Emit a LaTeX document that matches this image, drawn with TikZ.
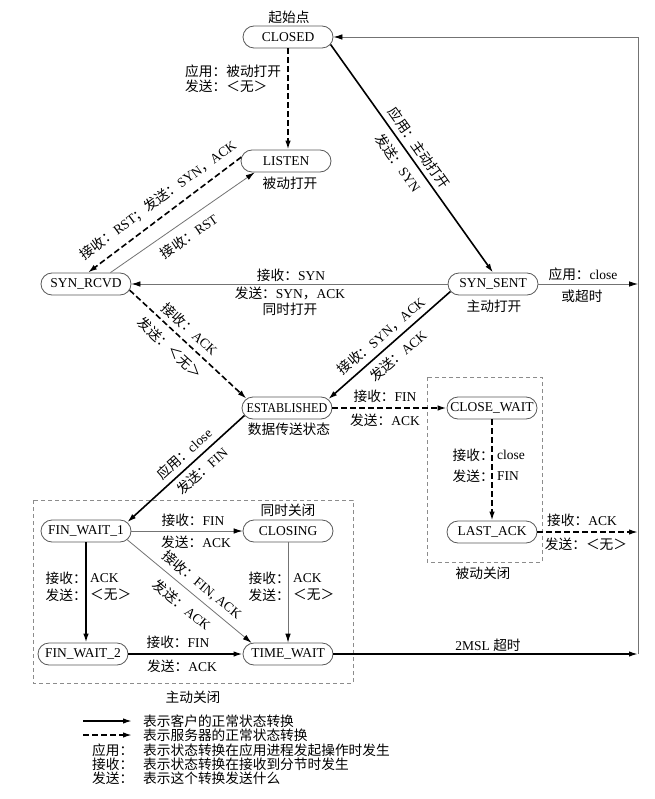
\documentclass[tikz,border=0pt]{standalone}
\usepackage{fontspec}
\setmainfont{Liberation Serif}
\newfontfamily\cjk{Noto Sans CJK SC}
\usetikzlibrary{arrows.meta,shapes.misc,calc}
\newcommand\zht[1]{{\cjk\fontsize{13.7}{15}\selectfont #1}}
\begin{document}
\begin{tikzpicture}[x=1pt,y=-1pt,
  st/.style={rounded rectangle, draw=black!65, line width=0.8pt, minimum width=90pt, minimum height=22pt, inner sep=0pt, font=\fontsize{13.5}{15}\selectfont},
  lb/.style={inner sep=0pt, font=\fontsize{13.5}{15}\selectfont},
  tip/.style={-{Latex[length=9pt,width=5.5pt,color=black]}},
  cli/.style={tip, line width=1.6pt, black},
  srv/.style={tip, line width=1.6pt, black, dash pattern=on 6pt off 3pt},
  oth/.style={tip, line width=0.8pt, black!55},
  box/.style={draw=black!45, line width=0.8pt, dash pattern=on 4pt off 3pt},
]
\fill[white] (0,0) rectangle (654,799);
\useasboundingbox (0,0) rectangle (654,799);

% dashed boxes
\draw[box] (427,377) rectangle (542,562);
\draw[box] (33,500) rectangle (353,683);

% states
\node[st] (closed) at (288,37) {CLOSED};
\node[st] (listen) at (286,161) {LISTEN};
\node[st] (synrcvd) at (86,284) {SYN\_RCVD};
\node[st] (synsent) at (493,284) {SYN\_SENT};
\node[st] (estab) at (287,408) {\scalebox{0.9}[1]{ESTABLISHED}};
\node[st] (closewait) at (492,408) {CLOSE\_WAIT};
\node[st] (lastack) at (492,532) {LAST\_ACK};
\node[st] (closing) at (288,531) {CLOSING};
\node[st] (fw1) at (86,531) {FIN\_WAIT\_1};
\node[st] (fw2) at (83,654) {FIN\_WAIT\_2};
\node[st] (tw) at (288,654) {TIME\_WAIT};

\coordinate (r1) at (638,284);
\coordinate (r2) at (638,532);
\coordinate (r3) at (638,654);
\coordinate (rt) at (638,37);

% connectors
\draw[srv] (closed.south) -- (closed.south |- listen.north);
\draw[cli] (closed.-10) -- (synsent.north);
\draw[srv] (listen.175) -- (synrcvd.80);
\draw[oth] (synrcvd.25) -- (listen.200);
\draw[oth] (synsent.west) -- (synrcvd.east);
\draw[oth] (synsent.east) -- (r1);
\draw[srv] (synrcvd.-8) -- (estab.167);
\draw[cli] (synsent.190) -- (estab.12);
\draw[srv] (estab.east) -- (closewait.west);
\draw[srv] (closewait.south) -- (lastack.north);
\draw[srv] (lastack.east) -- (r2);
\draw[cli] (estab.190) -- (fw1.12);
\draw[oth] (fw1.east) -- (closing.west);
\draw[cli] (fw1.south) -- (fw1.south |- fw2.north);
\draw[oth] (fw1.-12) -- (tw.163);
\draw[oth] (closing.south) -- (tw.north);
\draw[cli] (fw2.east) -- (tw.west);
\draw[cli] (tw.east) -- (r3);
\draw[oth] (r3) -- (rt) -- (closed.east);

% state captions
\node[lb] (c1) at (289,17) {\zht{起始点}};
\node[lb] (c2) at (290,183) {\zht{被动打开}};
\node[lb] (c3) at (494,306) {\zht{主动打开}};
\node[lb] (c4) at (289,429) {\zht{数据传送状态}};
\node[lb] (c5) at (288,510) {\zht{同时关闭}};
\node[lb] (c6) at (483,573) {\zht{被动关闭}};
\node[lb] (c7) at (193,697) {\zht{主动关闭}};

% transition labels
\node[lb, anchor=west] (a46) at (185,71) {\zht{应用：被动打开}};
\node[lb, anchor=west] (a47) at (185,86) {\zht{发送：＜无＞}};
\node[lb, rotate=-54.8] (a1) at (419,148) {\zht{应用：主动打开}};
\node[lb, rotate=-54.8] (a2) at (398,163) {\zht{发送：}SYN};
\node[lb, rotate=36.5] (a3) at (158,200) {\zht{接收：}RST\zht{；发送：}SYN\zht{，}ACK};
\node[lb, rotate=34.7] (a4) at (189,236) {\zht{接收：}RST};
\node[lb] (a5) at (291,275) {\zht{接收：}SYN};
\node[lb] (a6) at (290,293) {\zht{发送：}SYN\zht{，}ACK};
\node[lb] (a7) at (290,309) {\zht{同时打开}};
\node[lb] (a8) at (583,274) {\zht{应用：}close};
\node[lb] (a9) at (582,296) {\zht{或超时}};
\node[lb, rotate=-42.7] (a10) at (190,329) {\zht{接收：}ACK};
\node[lb, rotate=-42.7] (a11) at (170,348) {\zht{发送：＜无＞}};
\node[lb, rotate=41] (a12) at (381,336) {\zht{接收：}SYN\zht{，}ACK};
\node[lb, rotate=41] (a13) at (398,356) {\zht{发送：}ACK};
\node[lb] (a14) at (385,396) {\zht{接收：}FIN};
\node[lb] (a15) at (385,420) {\zht{发送：}ACK};
\node[lb, anchor=east] (a16) at (494,455) {\zht{接收：}};
\node[lb, anchor=west] (a17) at (497,455) {close};
\node[lb, anchor=east] (a18) at (494,476) {\zht{发送：}};
\node[lb, anchor=west] (a19) at (497,476) {FIN};
\node[lb] (a20) at (582,520) {\zht{接收：}ACK};
\node[lb] (a21) at (586,544) {\zht{发送：＜无＞}};
\node[lb, rotate=42.2] (a22) at (184,454) {\zht{应用：}close};
\node[lb, rotate=42.2] (a23) at (202,471) {\zht{发送：}FIN};
\node[lb] (a24) at (193,520) {\zht{接收：}FIN};
\node[lb] (a25) at (196,542) {\zht{发送：}ACK};
\node[lb, anchor=east] (a26) at (87,578) {\zht{接收：}};
\node[lb, anchor=west] (a27) at (90,578) {ACK};
\node[lb, anchor=east] (a28) at (87,595) {\zht{发送：}};
\node[lb, anchor=west] (a29) at (90,595) {\zht{＜无＞}};
\node[lb, anchor=east] (a30) at (290,578) {\zht{接收：}};
\node[lb, anchor=west] (a31) at (293,578) {ACK};
\node[lb, anchor=east] (a32) at (290,595) {\zht{发送：}};
\node[lb, anchor=west] (a33) at (293,595) {\zht{＜无＞}};
\node[lb, rotate=-39.5] (a34) at (202,585) {\zht{接收：}FIN, ACK};
\node[lb, rotate=-39.5] (a35) at (182,605) {\zht{发送：}ACK};
\node[lb] (a36) at (178,642) {\zht{接收：}FIN};
\node[lb] (a37) at (182,666) {\zht{发送：}ACK};
\node[lb] (a38) at (488,645) {2MSL \zht{超时}};

% legend
\coordinate (g1a) at (83,721);
\coordinate (g1b) at (132,721);
\coordinate (g2a) at (83,735);
\coordinate (g2b) at (132,735);
\draw[cli] (g1a) -- (g1b);
\draw[srv] (g2a) -- (g2b);
\node[lb, anchor=west] (t1) at (143,721) {\zht{表示客户的正常状态转换}};
\node[lb, anchor=west] (t2) at (143,735) {\zht{表示服务器的正常状态转换}};
\node[lb, anchor=west] (t3) at (143,750) {\zht{表示状态转换在应用进程发起操作时发生}};
\node[lb, anchor=west] (t4) at (143,764) {\zht{表示状态转换在接收到分节时发生}};
\node[lb, anchor=west] (t5) at (143,778) {\zht{表示这个转换发送什么}};
\node[lb, anchor=west] (k3) at (92,750) {\zht{应用：}};
\node[lb, anchor=west] (k4) at (92,764) {\zht{接收：}};
\node[lb, anchor=west] (k5) at (92,778) {\zht{发送：}};
\end{tikzpicture}
\end{document}
